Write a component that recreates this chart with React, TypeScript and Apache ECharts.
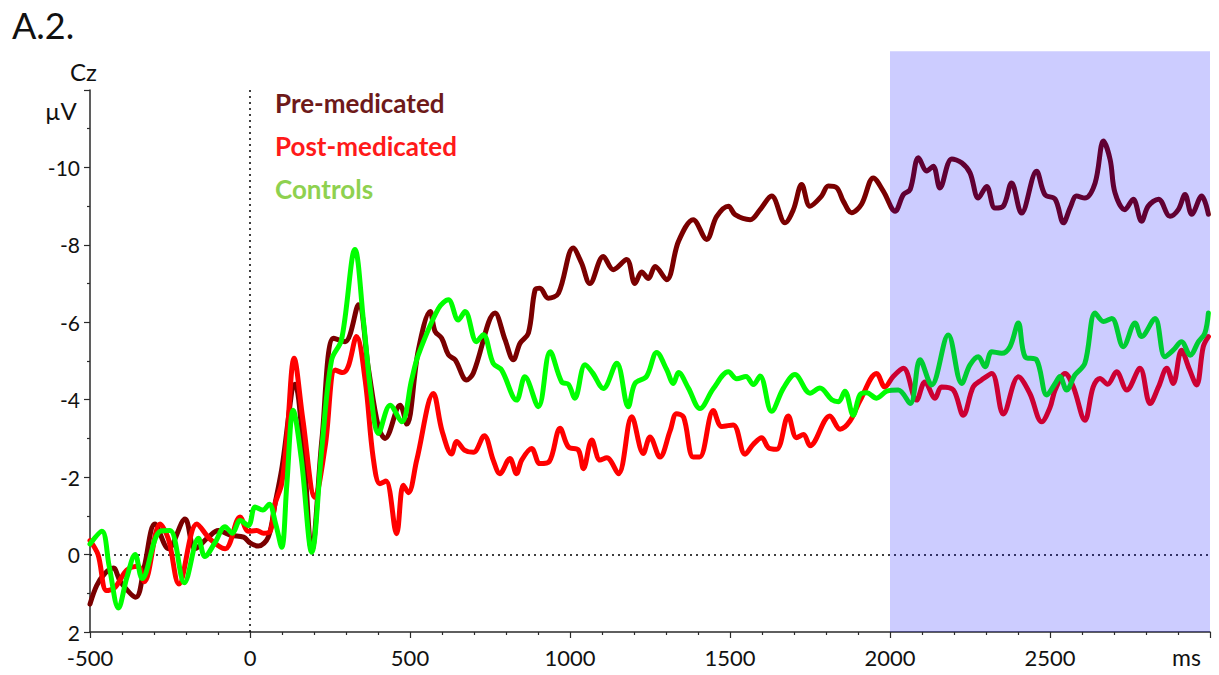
import React, { useEffect, useRef } from "react";
import * as echarts from "echarts";

// [time (ms), amplitude (µV)]
const preMedicated: [number, number][] = [
  [-500, 1.28], [-479, 0.8], [-455, 0.5], [-427, 0.35], [-405, 0.7], [-357, 1.1], [-330, 0.3], [-297, -0.79],
  [-255, -0.15], [-203, -0.92], [-172, -0.15], [-130, -0.45], [-99, -0.62], [-60, -0.5], [-20, -0.45],
  [0, -0.3], [26, -0.22], [57, -0.45], [78, -1.3], [99, -2.2], [141, -4.4], [168, -2.6], [193, -0.1],
  [225, -3.0], [261, -5.59], [297, -5.5], [339, -6.45], [370, -4.8], [401, -3.3], [422, -3.0], [469, -3.86],
  [490, -3.37], [526, -5.28], [563, -6.28], [578, -5.77], [599, -5.59], [620, -5.16], [641, -5.03],
  [677, -4.51], [698, -4.69], [766, -6.24], [797, -5.55], [823, -5.03], [844, -5.46], [870, -5.72],
  [891, -6.84], [906, -6.88], [932, -6.62], [964, -6.75], [1010, -7.92], [1036, -7.53], [1062, -7.0],
  [1104, -7.7], [1135, -7.36], [1177, -7.62], [1203, -7.0], [1224, -7.3], [1245, -7.13], [1266, -7.44],
  [1302, -7.1], [1339, -8.09], [1385, -8.65], [1427, -8.14], [1458, -8.73], [1495, -9.0], [1516, -8.78],
  [1563, -8.65], [1594, -8.91], [1630, -9.26], [1672, -8.57], [1698, -8.91], [1724, -9.56], [1750, -9.0],
  [1786, -9.26], [1807, -9.52], [1833, -9.48], [1854, -9.13], [1880, -8.83], [1911, -9.05], [1948, -9.73],
  [1979, -9.39], [2016, -8.87], [2042, -9.3], [2063, -9.43], [2089, -10.25], [2115, -9.91], [2135, -10.03],
  [2156, -9.47], [2193, -10.22], [2224, -10.12], [2250, -9.86], [2276, -9.21], [2302, -9.51], [2328, -8.95],
  [2354, -9.0], [2380, -9.6], [2411, -8.82], [2458, -9.9], [2484, -9.3], [2516, -9.18], [2542, -8.57],
  [2563, -8.96], [2583, -9.26], [2609, -9.21], [2641, -9.6], [2667, -10.68], [2688, -10.2], [2703, -9.35],
  [2734, -8.91], [2760, -9.18], [2786, -8.61], [2807, -9.0], [2839, -9.18], [2875, -8.74], [2901, -8.91],
  [2922, -9.3], [2943, -8.79], [2974, -9.26], [2995, -8.79],
];

const postMedicated: [number, number][] = [
  [-500, -0.36], [-475, 0.0], [-448, 0.93], [-422, 0.85], [-385, 0.4], [-350, 0.3], [-330, 0.7],
  [-281, -0.79], [-255, -0.4], [-222, 0.76], [-166, -0.79], [-125, -0.4], [-78, -0.15], [-31, -0.97],
  [-5, -0.6], [21, -0.62], [42, -0.55], [63, -0.6], [78, -1.3], [99, -1.83], [115, -3.0], [138, -5.07],
  [165, -3.5], [203, -1.48], [235, -2.8], [266, -4.77], [290, -4.7], [307, -4.86], [333, -5.63], [360, -4.5],
  [385, -2.5], [406, -1.83], [425, -1.9], [458, -0.54], [479, -1.79], [495, -1.6], [521, -2.44], [573, -4.16],
  [600, -3.2], [630, -2.6], [646, -2.92], [670, -2.7], [698, -2.64], [732, -3.07], [760, -2.44], [781, -2.09],
  [812, -2.48], [833, -2.09], [849, -2.44], [880, -2.74], [906, -2.35], [935, -2.4], [969, -3.26],
  [995, -2.78], [1026, -2.7], [1042, -2.22], [1068, -2.96], [1094, -2.44], [1115, -2.5], [1151, -2.09],
  [1193, -3.56], [1229, -2.61], [1250, -3.04], [1281, -2.52], [1313, -3.2], [1333, -3.64], [1355, -3.55],
  [1385, -2.52], [1405, -2.52], [1448, -3.72], [1474, -3.31], [1510, -3.35], [1547, -2.59], [1573, -2.85],
  [1599, -3.02], [1620, -2.76], [1646, -2.72], [1682, -3.58], [1708, -3.02], [1730, -3.1], [1750, -2.81],
  [1812, -3.58], [1844, -3.24], [1875, -3.45], [1906, -3.97], [1958, -4.68], [1984, -4.33], [2010, -4.6],
  [2042, -4.81], [2083, -3.99], [2109, -4.46], [2141, -4.04], [2161, -4.33], [2198, -4.25], [2229, -3.6],
  [2260, -4.33], [2286, -4.51], [2318, -4.68], [2354, -3.63], [2401, -4.59], [2437, -4.16], [2474, -3.43],
  [2500, -3.8], [2516, -4.25], [2547, -4.68], [2573, -4.33], [2609, -3.47], [2635, -4.33], [2656, -4.55],
  [2680, -4.4], [2708, -4.72], [2740, -4.25], [2781, -4.81], [2813, -3.9], [2839, -4.33], [2865, -4.81],
  [2885, -4.42], [2911, -5.28], [2935, -4.8], [2958, -4.38], [2979, -5.37], [2995, -5.63],
];

const controls: [number, number][] = [
  [-500, -0.27], [-463, -0.6], [-440, 0.3], [-411, 1.38], [-385, 0.6], [-359, 0.0], [-337, 0.62],
  [-281, -0.6], [-250, -0.62], [-205, 0.73], [-161, -0.42], [-141, 0.05], [-110, -0.3], [-78, -0.72],
  [-55, -0.55], [-31, -0.88], [-5, -0.75], [16, -1.23], [40, -1.15], [60, -1.3], [80, -0.8], [99, -0.19],
  [115, -1.8], [135, -3.73], [160, -2.5], [193, -0.06], [225, -2.8], [255, -5.03], [286, -5.55],
  [328, -7.88], [355, -6.0], [380, -4.0], [401, -3.13], [438, -3.86], [474, -3.43], [505, -4.51],
  [526, -5.16], [589, -6.36], [620, -6.58], [651, -6.06], [672, -6.28], [708, -5.5], [729, -5.68],
  [760, -4.94], [786, -4.77], [833, -3.99], [859, -4.59], [901, -3.82], [938, -5.24], [974, -4.46],
  [995, -4.4], [1015, -4.04], [1047, -4.9], [1070, -4.7], [1104, -4.29], [1146, -4.94], [1182, -3.82],
  [1203, -4.42], [1239, -4.6], [1271, -5.22], [1302, -4.78], [1323, -4.42], [1339, -4.7], [1370, -4.3],
  [1406, -3.77], [1448, -4.29], [1495, -4.72], [1521, -4.54], [1550, -4.6], [1573, -4.39], [1594, -4.61],
  [1630, -3.7], [1667, -4.3], [1703, -4.65], [1750, -4.17], [1781, -4.3], [1818, -4.0], [1839, -3.95],
  [1859, -4.22], [1885, -3.6], [1906, -4.13], [1927, -4.18], [1958, -4.04], [1990, -4.22], [2026, -4.25],
  [2063, -3.9], [2094, -5.03], [2130, -4.38], [2182, -5.67], [2224, -4.42], [2250, -4.9], [2276, -5.11],
  [2297, -4.85], [2318, -5.24], [2349, -5.2], [2375, -5.37], [2401, -5.98], [2422, -5.11], [2458, -5.03],
  [2490, -4.12], [2516, -4.42], [2531, -4.6], [2552, -4.25], [2578, -4.64], [2609, -4.94], [2641, -6.24],
  [2667, -6.02], [2693, -6.1], [2729, -5.37], [2766, -5.98], [2786, -5.63], [2828, -6.1], [2859, -5.11],
  [2885, -5.28], [2911, -5.5], [2938, -5.15], [2964, -5.5], [2984, -5.72], [2995, -6.24],
];

const seriesNames = ["Pre-medicated", "Post-medicated", "Controls"];
const lineColors = ["#7a0000", "#ff0000", "#00ff00"];
const legendColors = ["#6e1a1a", "#ff1a1a", "#8ed14f"];
// shaded window: time range and µV range (extends one unit above the axis top)
const shadeRange: [number, number] = [2000, 3000];
const shadeAmp: [number, number] = [-13, 2];
const xRange: [number, number] = [-500, 3000];
const yRange: [number, number] = [-12, 2];

const FONT = "Lato, 'Open Sans', sans-serif";

export default function App() {
  const ref = useRef<HTMLDivElement>(null);
  useEffect(() => {
    if (!ref.current) return;
    const chart = echarts.init(ref.current, null, { renderer: "svg" });
    const datasets = [preMedicated, postMedicated, controls];
    const axisColor = "#2a2a2a";
    const textGraphics = [
      { type: "text", left: 12, top: 7, style: { text: "A.2.", font: `36px ${FONT}`, fill: "#111" } },
      { type: "text", left: 70, top: 59, style: { text: "Cz", font: `24px ${FONT}`, fill: "#111" } },
      { type: "text", left: 45, top: 98, style: { text: "µV", font: `24px ${FONT}`, fill: "#111" } },
      { type: "text", left: 1172, top: 645, style: { text: "ms", font: `23px ${FONT}`, fill: "#111" } },
      ...seriesNames.map((n, i) => ({
        type: "text",
        left: 275,
        top: 90 + i * 43,
        style: { text: n, font: `bold 26px ${FONT}`, fill: legendColors[i] },
      })),
    ];
    chart.setOption({
      animation: false,
      grid: { left: 90, right: 9, top: 90, bottom: 43 },
      xAxis: {
        type: "value",
        min: xRange[0],
        max: xRange[1],
        interval: 500,
        axisLine: { show: true, onZero: false, lineStyle: { color: axisColor, width: 1.5 } },
        axisTick: { show: true, length: 6, lineStyle: { color: axisColor, width: 1.2 } },
        minorTick: { show: true, splitNumber: 5, length: 3, lineStyle: { color: axisColor, width: 1.2 } },
        splitLine: { show: false },
        axisLabel: {
          fontSize: 22,
          lineHeight: 20,
          fontFamily: FONT,
          color: "#111",
          margin: 15,
          formatter: (v: number) => (v === xRange[1] ? "" : String(v)),
        },
      },
      yAxis: {
        type: "value",
        inverse: true,
        min: yRange[0],
        max: yRange[1],
        interval: 2,
        axisLine: { show: true, onZero: false, lineStyle: { color: axisColor, width: 1.5 } },
        axisTick: { show: true, length: 6, lineStyle: { color: axisColor, width: 1.2 } },
        minorTick: { show: true, splitNumber: 2, length: 3, lineStyle: { color: axisColor, width: 1.2 } },
        splitLine: { show: false },
        axisLabel: {
          fontSize: 21,
          lineHeight: 16,
          fontFamily: FONT,
          color: "#111",
          margin: 10,
          formatter: (v: number) => (v === yRange[0] ? "" : String(v)),
        },
      },
      series: datasets.map((d, i) => ({
        type: "line",
        name: seriesNames[i],
        data: d,
        showSymbol: false,
        symbol: "none",
        smooth: 0.35,
        z: 3 + i,
        lineStyle: { color: lineColors[i], width: 5, cap: "round", join: "round" },
        ...(i === 0
          ? {
              markLine: {
                silent: true,
                symbol: "none",
                z: 1,
                label: { show: false },
                lineStyle: { color: "#000", type: [2, 4], width: 1.5 },
                data: [{ yAxis: 0 }, { xAxis: 0 }],
              },
            }
          : {}),
      })),
      graphic: textGraphics,
    });
    // shaded analysis window placed through the chart's own scales
    const p1 = chart.convertToPixel({ gridIndex: 0 }, [shadeRange[0], shadeAmp[0]]) as number[];
    const p2 = chart.convertToPixel({ gridIndex: 0 }, [shadeRange[1], shadeAmp[1]]) as number[];
    chart.setOption({
      graphic: [
        ...textGraphics,
        {
          type: "rect",
          silent: true,
          z: 100,
          shape: {
            x: Math.min(p1[0], p2[0]),
            y: Math.min(p1[1], p2[1]),
            width: Math.abs(p2[0] - p1[0]),
            height: Math.abs(p2[1] - p1[1]),
          },
          style: { fill: "rgba(0,0,255,0.2)" },
        },
      ],
    });
    return () => chart.dispose();
  }, []);
  return (
    <div
      ref={ref}
      style={{ position: "fixed", left: 0, top: 0, width: 1219, height: 675, background: "#fff" }}
    />
  );
}
